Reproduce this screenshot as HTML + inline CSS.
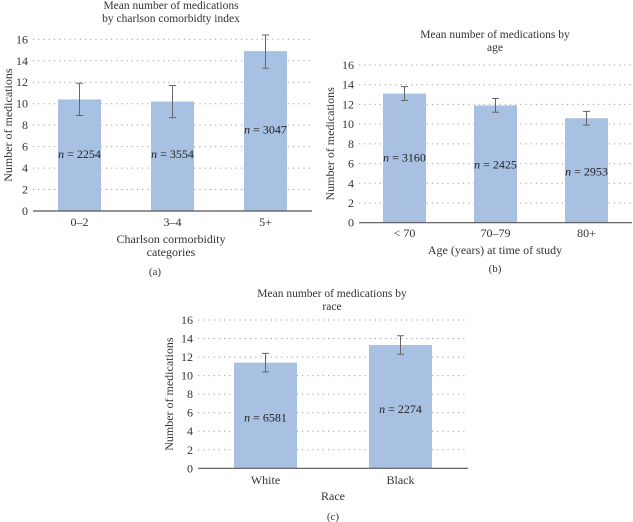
<!DOCTYPE html>
<html><head><meta charset="utf-8">
<style>
html,body{margin:0;padding:0;background:#fff;}
svg{display:block;font-family:"Liberation Serif",serif;}
</style></head>
<body>
<svg id="fig" width="633" height="522" viewBox="0 0 633 522"></svg>
<script>
// Panel (a)
const catsA = ["0–2","3–4","5+"];
const valsA = [10.4,10.2,14.9];
const errLoA = [8.9,8.7,13.3];
const errHiA = [11.9,11.7,16.4];
const nA = ["2254","3554","3047"];
const nPosA = [5.3,5.3,7.6];
// Panel (b)
const catsB = ["< 70","70–79","80+"];
const valsB = [13.1,11.9,10.6];
const errLoB = [12.4,11.2,9.9];
const errHiB = [13.8,12.6,11.3];
const nB = ["3160","2425","2953"];
const nPosB = [6.6,5.9,5.2];
// Panel (c)
const catsC = ["White","Black"];
const valsC = [11.4,13.3];
const errLoC = [10.4,12.3];
const errHiC = [12.4,14.3];
const nC = ["6581","2274"];
const nPosC = [5.5,6.4];
const yTicks = [0,2,4,6,8,10,12,14,16];

const NS="http://www.w3.org/2000/svg";
const svg=document.getElementById('fig');
function mk(tag,attrs,parent,text){const e=document.createElementNS(NS,tag);for(const k in attrs)e.setAttribute(k,attrs[k]);if(text!==undefined)e.textContent=text;(parent||svg).appendChild(e);return e;}

function panel(cfg){
  const g=mk('g',{});
  
  
  const y=v=>cfg.y0+(cfg.y16-cfg.y0)*v/16;
  yTicks.forEach(t=>{
    if(t>0){const l=mk('line',{x1:cfg.x0,x2:cfg.x1,y1:y(t),y2:y(t),stroke:'#a0a0a0','stroke-width':1,'stroke-dasharray':'1.2,4'},g);
      }
    const tl=mk('text',{x:cfg.x0-5,y:y(t)+4,'text-anchor':'end','font-size':12,fill:'#333'},g,String(t));
    
  });
  const n=cfg.cats.length, bw=(cfg.x1-cfg.x0)/n;
  cfg.cats.forEach((c,i)=>{
    const cx=cfg.x0+bw*(i+0.5), w=cfg.barW;
    const r=mk('rect',{x:cx-w/2,y:y(cfg.vals[i]),width:w,height:y(0)-y(cfg.vals[i]),fill:'#a8c0e2'},g);
    
    const e=mk('path',{d:`M${cx},${y(cfg.lo[i])}V${y(cfg.hi[i])}M${cx-3.5},${y(cfg.lo[i])}H${cx+3.5}M${cx-3.5},${y(cfg.hi[i])}H${cx+3.5}`,stroke:'#666','stroke-width':1,fill:'none'},g);
    
    const nl=mk('text',{x:cx,y:y(cfg.npos[i])+4,'text-anchor':'middle','font-size':12,fill:'#222'},g);
    
    mk('tspan',{'font-style':'italic'},nl,'n');
    mk('tspan',{},nl,' = '+cfg.ns[i]);
    const xl=mk('text',{x:cx,y:cfg.tickY,'text-anchor':'middle','font-size':12,fill:'#333'},g,c);
    
  });
  const ax=mk('line',{x1:cfg.x0,x2:cfg.x1,y1:y(0),y2:y(0),stroke:'#555','stroke-width':1.2},g);
  
  cfg.title.forEach((t,i)=>{const tt=mk('text',{x:cfg.tx,y:cfg.ty+i*13,'text-anchor':'middle','font-size':11.5,fill:'#333'},g,t);
    });
  cfg.xt.forEach((t,i)=>{const tt=mk('text',{x:cfg.xtx,y:cfg.xty+i*13,'text-anchor':'middle','font-size':12,fill:'#333'},g,t);
    });
  const ym=(y(0)+y(16))/2;
  const yt=mk('text',{x:cfg.ytx,y:ym,'text-anchor':'middle','font-size':12,fill:'#333',transform:`rotate(-90 ${cfg.ytx} ${ym})`},g,'Number of medications');
  
  const pl=mk('text',{x:cfg.px,y:cfg.py,'text-anchor':'middle','font-size':11,fill:'#333'},g,cfg.plab);
  
}

panel({name:'chart-a-charlson',cats:catsA,vals:valsA,lo:errLoA,hi:errHiA,ns:nA,npos:nPosA,
  x0:33,x1:312,y0:211,y16:39.3,barW:43,tickY:226,
  title:['Mean number of medications','by charlson comorbidty index'],tx:171,ty:9,
  xt:['Charlson cormorbidity','categories'],xtx:171,xty:243,ytx:12,px:155,py:275,plab:'(a)'});
panel({name:'chart-b-age',cats:catsB,vals:valsB,lo:errLoB,hi:errHiB,ns:nB,npos:nPosB,
  x0:359,x1:632,y0:222.7,y16:65,barW:43,tickY:237,
  title:['Mean number of medications by','age'],tx:495,ty:38,
  xt:['Age (years) at time of study'],xtx:495,xty:254,ytx:334,px:495,py:272,plab:'(b)'});
panel({name:'chart-c-race',cats:catsC,vals:valsC,lo:errLoC,hi:errHiC,ns:nC,npos:nPosC,
  x0:198,x1:468,y0:468.3,y16:320,barW:63,tickY:484,
  title:['Mean number of medications by','race'],tx:332,ty:297,
  xt:['Race'],xtx:333,xty:500,ytx:173,px:333,py:520,plab:'(c)'});
</script>
</body></html>
